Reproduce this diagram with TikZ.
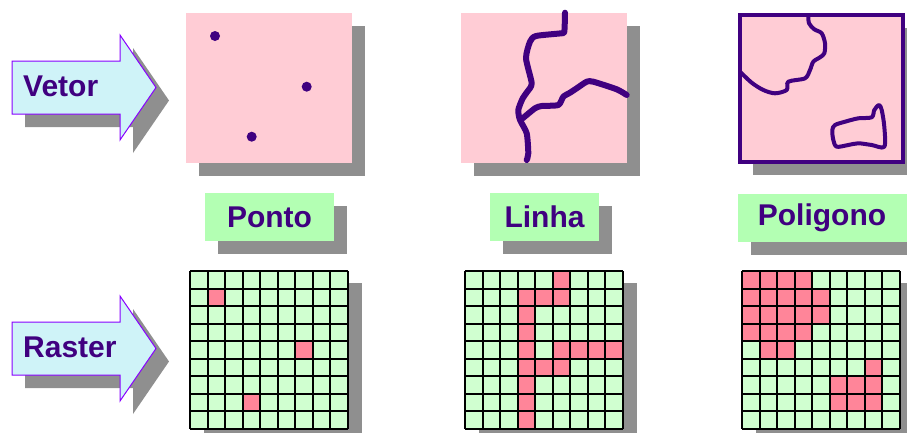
\documentclass[tikz,border=0pt]{standalone}
\usepackage{fontspec}
\setmainfont{Liberation Sans}
\usetikzlibrary{shadows}

\definecolor{ink}{HTML}{400080}
\definecolor{arrowline}{HTML}{8800FF}
\definecolor{arrowfill}{HTML}{CFF3F8}
\definecolor{panelpink}{HTML}{FFCCD5}
\definecolor{labelgreen}{HTML}{B3FFB3}
\definecolor{cellgreen}{HTML}{D0FFD0}
\definecolor{cellpink}{HTML}{FF8599}
\definecolor{shadowgray}{HTML}{8F8F8F}

\tikzset{
  hardshadow/.style={drop shadow={shadow xshift=13pt, shadow yshift=-13pt,
      opacity=1, fill=shadowgray}},
  arrowshape/.style={fill=arrowfill, draw=arrowline, line width=1pt, hardshadow},
  arrowtext/.style={text=ink, inner sep=0pt,
      font=\fontsize{30}{36}\selectfont\bfseries},
  labelbox/.style={fill=labelgreen, text=ink, inner sep=0pt, hardshadow,
      minimum height=48pt, font=\fontsize{30}{36}\selectfont\bfseries},
  panel/.style={fill=panelpink, hardshadow},
  river/.style={draw=ink, line width=6pt, line cap=round, line join=round},
  boundary/.style={draw=ink, line width=4pt, line cap=round, line join=round},
  gridline/.style={draw=black, line width=2pt}
}

\begin{document}
\begin{tikzpicture}[x=1pt,y=-1pt]
  \useasboundingbox (0,0) rectangle (907,432);

  % arrows on the left
  \foreach \yc/\name/\txt in {87.5/vetor/Vetor, 348.5/raster/Raster} {
    \path[arrowshape] (12,\yc-26.5) -- (120,\yc-26.5) -- (120,\yc-52.5)
      -- (156,\yc) -- (120,\yc+52.5) -- (120,\yc+26.5) -- (12,\yc+26.5) -- cycle;
    \node[arrowtext, anchor=west] (\name) at (23,\yc-1.5) {\txt};
  }

  % points
  \path[panel] (186,13) rectangle (352,163);
  \foreach \p in {(215,36), (306.7,86.7), (251.7,136.7)}
    \fill[ink] \p circle[radius=5pt];

  % line
  \path[panel] (461,13) rectangle (627,163);
  \draw[river] plot[smooth, tension=0.4] coordinates {(565,12.7) (564.3,31.7)
    (561,33.3) (536,36) (530,41.7) (526,58.3) (531.7,83.3) (527.3,91.7)
    (522.7,98.3) (518.3,110) (520,120) (526.7,133.3) (528.3,153.3) (526.7,160)};
  \draw[river] plot[smooth, tension=0.4] coordinates {(522.7,118.3) (535,108.3)
    (541.7,106) (558.3,105) (563.3,96.7) (570,92.7) (576.7,88.3) (586.7,81.7)
    (593.3,81.7) (616.7,89.3) (626.7,95)};

  % polygon
  \path[panel, draw=ink, line width=3.5pt] (740,15) rectangle (903,162);
  \draw[boundary] plot[smooth, tension=0.5] coordinates {(808.3,15) (809,23.3)
    (814.3,29.3) (821.7,33.3) (825,43.3) (824.3,53.3) (820,57.3) (813.3,61.7)
    (810,70) (805,78.3) (788.3,81.7) (786.7,90) (775,93.3) (763.3,90)
    (751.7,82.7) (740,71.7)};
  \draw[boundary] plot[smooth cycle, tension=0.5] coordinates {(835,125)
    (845,121.7) (858.3,118.3) (871.7,117.3) (874.3,110) (879,105) (881.7,110)
    (884.3,126.7) (884.3,146.7) (871.7,145) (858.3,143.3) (848.3,145)
    (836.7,146.7) (833.3,140) (832.3,130)};

  % labels
  \node[labelbox, minimum width=129pt] (ponto) at (269.5,217) {Ponto};
  \node[labelbox, minimum width=109pt] (linha) at (544.5,217) {Linha};
  \node[labelbox, minimum width=169pt] (poligono) at (822,218) {Poligono};

  % raster grids
  \foreach \gx/\cells in {190/{1/1,6/4,3/7},
      465/{5/0,3/1,4/1,5/1,3/2,3/3,3/4,5/4,6/4,7/4,8/4,3/5,4/5,5/5,3/6,3/7,3/8},
      742/{0/0,1/0,2/0,3/0,0/1,1/1,2/1,3/1,4/1,0/2,1/2,2/2,3/2,4/2,
           0/3,1/3,2/3,3/3,1/4,2/4,7/5,5/6,6/6,7/6,5/7,6/7,7/7}} {
    \fill[shadowgray] (\gx+14,283) rectangle (\gx+171.5,440.5);
    \fill[cellgreen] (\gx,271) rectangle (\gx+157.5,428.5);
    \foreach \c/\r in \cells
      \fill[cellpink] (\gx+\c*17.5,271+\r*17.5) rectangle ++(17.5,17.5);
    \foreach \i in {0,...,9} {
      \draw[gridline] (\gx+\i*17.5,271) -- (\gx+\i*17.5,428.5);
      \draw[gridline] (\gx,271+\i*17.5) -- (\gx+157.5,271+\i*17.5);
    }
  }
\end{tikzpicture}
\end{document}
